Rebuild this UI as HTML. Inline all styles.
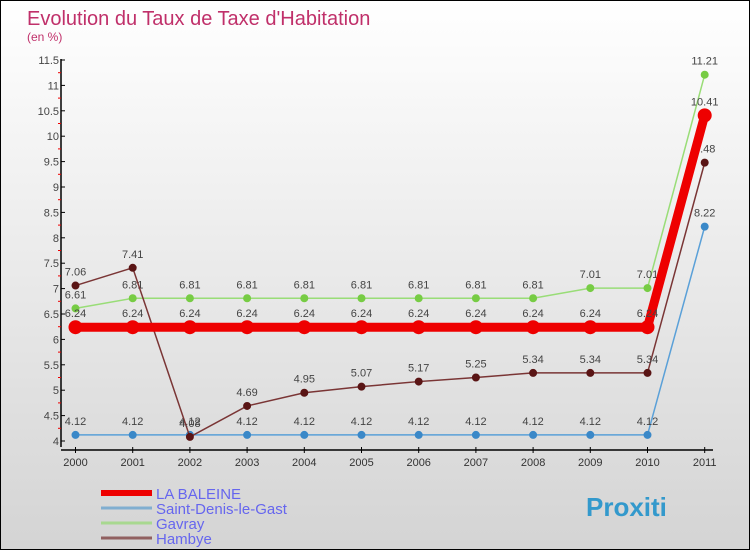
<!DOCTYPE html>
<html><head><meta charset="utf-8"><style>
body{margin:0}
#c{width:748px;height:548px;border:1px solid #000;background:linear-gradient(#fff,#d4d4d4);position:relative;font-family:"Liberation Sans",sans-serif;overflow:hidden}
</style></head><body>
<div id="c">
<svg id="s" width="748" height="548" style="position:absolute;left:0;top:0">
<text x="26" y="24" font-size="20" fill="#c0306a">Evolution du Taux de Taxe d'Habitation</text>
<text x="26" y="40" font-size="12" fill="#c0306a">(en %)</text>
<g id="g"></g>
</svg>
</div>
<script>
const years=["2000","2001","2002","2003","2004","2005","2006","2007","2008","2009","2010","2011"];
const laBaleine=[6.24,6.24,6.24,6.24,6.24,6.24,6.24,6.24,6.24,6.24,6.24,10.41];
const saintDenis=[4.12,4.12,4.12,4.12,4.12,4.12,4.12,4.12,4.12,4.12,4.12,8.22];
const gavray=[6.61,6.81,6.81,6.81,6.81,6.81,6.81,6.81,6.81,7.01,7.01,11.21];
const hambye=[7.06,7.41,4.08,4.69,4.95,5.07,5.17,5.25,5.34,5.34,5.34,9.48];
const yTicks=[4,4.5,5,5.5,6,6.5,7,7.5,8,8.5,9,9.5,10,10.5,11,11.5];
const NS="http://www.w3.org/2000/svg";
const g=document.getElementById('g');
const X=i=>74.5+i*57.2;
const Y=v=>440-(v-4)*50.8;
function el(t,a,p){const e=document.createElementNS(NS,t);for(const k in a)e.setAttribute(k,a[k]);(p||g).appendChild(e);return e;}
// axes
let ax=el('line',{x1:60,y1:58,x2:60,y2:446,stroke:'#000','stroke-width':1.5});


let xa=el('line',{x1:60,y1:449,x2:712,y2:449,stroke:'#000','stroke-width':1.5});


yTicks.forEach((v,i)=>{
 el('line',{x1:60,y1:Y(v),x2:64,y2:Y(v),stroke:'#000'});
 if(i<yTicks.length-1)el('line',{x1:57,y1:Y(v+0.25),x2:60,y2:Y(v+0.25),stroke:'#e00'});
 const t=el('text',{x:58,y:Y(v)+4,'font-size':11,fill:'#444','text-anchor':'end'});
 t.textContent=String(v);
 
 
});
years.forEach((y,i)=>{
 el('line',{x1:X(i),y1:446,x2:X(i),y2:452,stroke:'#000'});
 const t=el('text',{x:X(i),y:465,'font-size':11,fill:'#333','text-anchor':'middle'});
 t.textContent=y;
 
 
});
function series(data,color,w,r,name,dot){
 const pts=data.map((v,i)=>X(i)+','+Y(v)).join(' ');
 const p=el('polyline',{points:pts,fill:'none',stroke:color,'stroke-width':w});
 
 
 data.forEach((v,i)=>{
  const c=el('circle',{cx:X(i),cy:Y(v),r:r,fill:dot,stroke:dot});
  
  
  const t=el('text',{x:X(i),y:Y(v)-10,'font-size':11,fill:'#444','text-anchor':'middle'});
  t.textContent=String(v);
  
  
 });
}
series(saintDenis,'#5aa0d8',1.5,3.5,'saint-denis','#3a88c8');
series(gavray,'#99dd77',1.5,3.5,'gavray','#77cc44');
series(hambye,'#7a3535',1.5,3.5,'hambye','#5a1515');
series(laBaleine,'#ee0000',9,6.5,'la-baleine','#ee0000');
const leg=[['LA BALEINE','#ee0000',6],['Saint-Denis-le-Gast','#80aed0',3],['Gavray','#a8d890',3],['Hambye','#906060',3]];
leg.forEach((l,i)=>{
 const y=492+i*15;
 const ln=el('line',{x1:100,y1:y,x2:151,y2:y,stroke:l[1],'stroke-width':l[2]});
 
 
 const t=el('text',{x:155,y:y+6,'font-size':15,fill:'#6666ee'});
 t.textContent=l[0];
 
 
});
const logo=el('text',{x:585,y:515,'font-size':26,'font-weight':'bold',fill:'#3399cc'});
logo.textContent='Proxiti';


</script>
</body></html>
